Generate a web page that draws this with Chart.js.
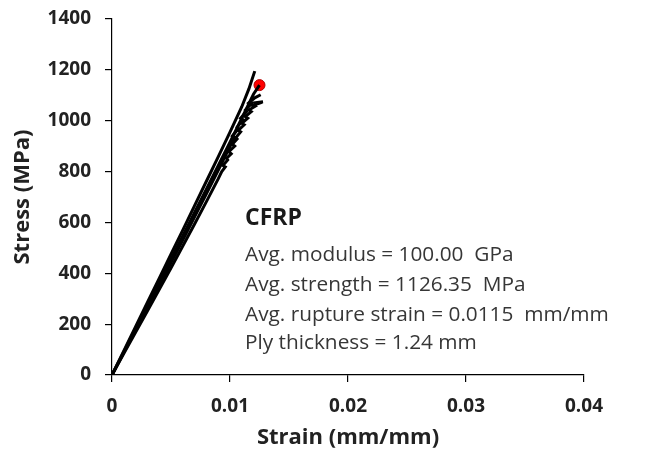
<!DOCTYPE html>
<html>
<head>
<meta charset="utf-8">
<script src="https://cdn.jsdelivr.net/npm/chart.js@4.4.1/dist/chart.umd.min.js"></script>
<style>
  html, body { margin: 0; padding: 0; background: #fff; }
  #wrap { width: 654px; height: 452px; }
</style>
</head>
<body>
<div id="wrap"><canvas id="chart" width="654" height="452"></canvas></div>
<script>
// tensile test curves, one pair of arrays per coupon
const strain1 = [0, 0.001, 0.002, 0.003, 0.004, 0.005, 0.006, 0.007, 0.008, 0.009, 0.010, 0.011, 0.0116, 0.0121];
const stress1 = [0, 95, 190, 285, 380, 475, 570, 666, 762, 858, 955, 1055, 1125, 1195];

const strain2 = [0, 0.001, 0.002, 0.003, 0.004, 0.005, 0.006, 0.007, 0.008, 0.009, 0.010, 0.011, 0.012, 0.0125];
const stress2 = [0, 91, 182, 273, 364, 455, 547, 639, 731, 823, 916, 1010, 1105, 1140];

const strain3 = [0, 0.001, 0.002, 0.003, 0.004, 0.005, 0.006, 0.007, 0.008, 0.009, 0.0093, 0.0096, 0.0094, 0.0098, 0.0097, 0.0101, 0.0099, 0.0104, 0.0102, 0.0106, 0.0105, 0.0109, 0.0107, 0.0112, 0.0110, 0.0115, 0.0113, 0.0118, 0.0116, 0.0121, 0.0119, 0.0124, 0.0122, 0.0128];
const stress3 = [0, 84, 168, 252, 336, 421, 507, 594, 682, 771, 800, 818, 824, 846, 852, 870, 878, 900, 908, 928, 934, 956, 962, 984, 990, 1010, 1016, 1036, 1042, 1056, 1060, 1068, 1071, 1075];

const strain4 = [0, 0.001, 0.002, 0.003, 0.004, 0.005, 0.006, 0.007, 0.008, 0.009, 0.010, 0.0104, 0.0102, 0.0107, 0.0106, 0.0111, 0.0109, 0.0114, 0.0113, 0.0118, 0.0116, 0.0121, 0.0126];
const stress4 = [0, 88, 176, 264, 352, 441, 531, 622, 713, 805, 898, 934, 940, 968, 974, 1004, 1010, 1036, 1042, 1066, 1070, 1090, 1102];

// rupture point marker
const ruptureStrain = [0.0125];
const ruptureStress = [1140];

const xTicks = [0, 0.01, 0.02, 0.03, 0.04];
const yTicks = [0, 200, 400, 600, 800, 1000, 1200, 1400];

const noteTitle = 'CFRP';
const noteLines = [
  'Avg. modulus = 100.00  GPa',
  'Avg. strength = 1126.35  MPa',
  'Avg. rupture strain = 0.0115  mm/mm',
  'Ply thickness = 1.24 mm'
];
// anchor of the note in data units
const noteX = 0.01127;
const noteY = [614, 472, 354, 236, 126];

const pts = (xs, ys) => xs.map((x, i) => ({ x: x, y: ys[i] }));

const curve = (xs, ys) => ({
  data: pts(xs, ys),
  showLine: true,
  borderColor: '#000',
  borderWidth: 3,
  pointRadius: 0,
  tension: 0
});

const notePlugin = {
  id: 'note',
  afterDraw(chart) {
    const ctx = chart.ctx;
    const xs = chart.scales.x, ys = chart.scales.y;
    const px = xs.getPixelForValue(noteX);
    ctx.save();
    ctx.textBaseline = 'middle';
    ctx.textAlign = 'left';
    ctx.fillStyle = '#1a1a1a';
    ctx.font = 'bold 23px "Open Sans"';
    ctx.fillText(noteTitle, px, ys.getPixelForValue(noteY[0]));
    ctx.fillStyle = '#363636';
    ctx.font = '20.8px "Open Sans"';
    noteLines.forEach((t, i) => ctx.fillText(t, px, ys.getPixelForValue(noteY[i + 1])));
    ctx.restore();
  }
};

const tickFont = { family: 'Open Sans', size: 19, weight: 'bold' };
const titleFont = { family: 'Open Sans', size: 22, weight: 'bold' };

new Chart(document.getElementById('chart'), {
  type: 'scatter',
  data: {
    datasets: [
      curve(strain1, stress1),
      curve(strain2, stress2),
      curve(strain3, stress3),
      curve(strain4, stress4),
      {
        data: pts(ruptureStrain, ruptureStress),
        pointRadius: 5.5,
        pointBackgroundColor: '#ff0000',
        pointBorderColor: '#b00000',
        pointBorderWidth: 1
      }
    ]
  },
  options: {
    responsive: false,
    animation: false,
    layout: { padding: { top: 19, right: 70, left: 0, bottom: 0 } },
    plugins: { legend: { display: false }, tooltip: { enabled: false } },
    scales: {
      x: {
        type: 'linear',
        min: 0,
        max: 0.04,
        afterBuildTicks: s => { s.ticks = xTicks.map(v => ({ value: v })); },
        afterFit: s => { s.height = 77; s.paddingLeft = 0; s.paddingRight = 0; },
        ticks: {
          color: '#222',
          font: tickFont,
          padding: 13,
          maxRotation: 0,
          callback: v => String(v)
        },
        grid: { drawOnChartArea: false, drawTicks: true, tickLength: 7, color: '#000', lineWidth: 1.2 },
        border: { display: true, color: '#000', width: 1.2 },
        title: { display: true, text: 'Strain (mm/mm)', color: '#222', font: titleFont, padding: { top: 5, bottom: 1 } }
      },
      y: {
        type: 'linear',
        min: 0,
        max: 1400,
        afterBuildTicks: s => { s.ticks = yTicks.map(v => ({ value: v })); },
        afterFit: s => { s.width = 112; s.paddingTop = 0; s.paddingBottom = 0; },
        ticks: {
          color: '#222',
          font: tickFont,
          padding: 14,
          callback: v => String(v)
        },
        grid: { drawOnChartArea: false, drawTicks: true, tickLength: 7, color: '#000', lineWidth: 1.2 },
        border: { display: true, color: '#000', width: 1.2 },
        title: { display: true, text: 'Stress (MPa)', color: '#222', font: titleFont, padding: { top: 10, bottom: 0 } }
      }
    }
  },
  plugins: [notePlugin]
});
</script>
</body>
</html>
